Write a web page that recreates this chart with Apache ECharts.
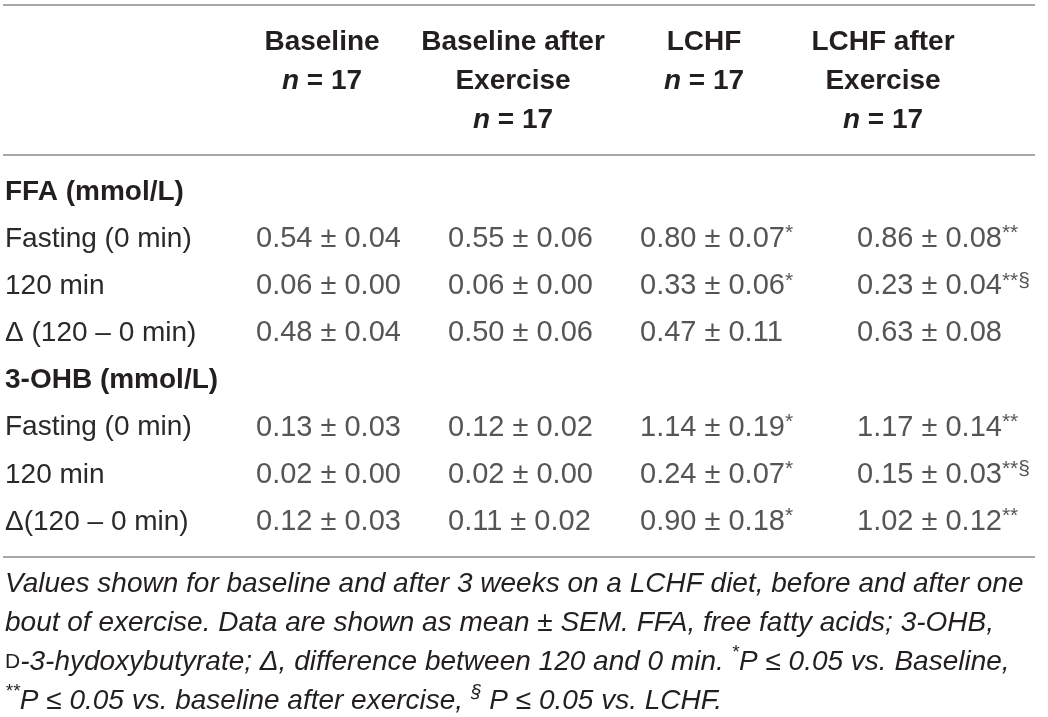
<!DOCTYPE html>
<html>
<head>
<meta charset="utf-8">
<script src="https://cdn.jsdelivr.net/npm/echarts@6/dist/echarts.min.js"></script>
<style>
html, body { margin: 0; padding: 0; background: #fff; }
#main { width: 1048px; height: 717px; }
</style>
</head>
<body>
<div id="main"></div>
<script>
// 表頭與列名
const columnNames = ['Baseline', 'Baseline after\nExercise', 'LCHF', 'LCHF after\nExercise'];
const groupSize = 17;
const rowLabels = ['FFA (mmol/L)', 'Fasting (0 min)', '120 min', 'Δ (120 – 0 min)',
                   '3-OHB (mmol/L)', 'Fasting (0 min)', '120 min', 'Δ(120 – 0 min)'];
const groupRows = [0, 4];

// mean ± SEM，null 為分組標題列
const baselineMean   = [null, 0.54, 0.06, 0.48, null, 0.13, 0.02, 0.12];
const baselineSem    = [null, 0.04, 0.00, 0.04, null, 0.03, 0.00, 0.03];
const baselineExMean = [null, 0.55, 0.06, 0.50, null, 0.12, 0.02, 0.11];
const baselineExSem  = [null, 0.06, 0.00, 0.06, null, 0.02, 0.00, 0.02];
const lchfMean       = [null, 0.80, 0.33, 0.47, null, 1.14, 0.24, 0.90];
const lchfSem        = [null, 0.07, 0.06, 0.11, null, 0.19, 0.07, 0.18];
const lchfExMean     = [null, 0.86, 0.23, 0.63, null, 1.17, 0.15, 1.02];
const lchfExSem      = [null, 0.08, 0.04, 0.08, null, 0.14, 0.03, 0.12];

// 顯著性標記
const baselineMarks   = ['', '', '', '', '', '', '', ''];
const baselineExMarks = ['', '', '', '', '', '', '', ''];
const lchfMarks       = ['', '*', '*', '', '', '*', '*', '*'];
const lchfExMarks     = ['', '**', '**§', '', '', '**', '**§', '**'];

const footnoteLines = [
    'Values shown for baseline and after 3 weeks on a LCHF diet, before and after one',
    'bout of exercise. Data are shown as mean ± SEM. FFA, free fatty acids; 3-OHB,',
    '{sc|D}-3-hydoxybutyrate; Δ, difference between 120 and 0 min. {sup|*}P ≤ 0.05 vs. Baseline,',
    '{sup|**}P ≤ 0.05 vs. baseline after exercise, {sup|§} P ≤ 0.05 vs. LCHF.'
];

const FONT = '"Liberation Sans", Arial, sans-serif';
const TEXT = '#231f20';
const DATA_TEXT = '#2a2a2a';
const RULE = '#a8a8a8';

const columns = [
    { mean: baselineMean, sem: baselineSem, marks: baselineMarks, dx: -66 },
    { mean: baselineExMean, sem: baselineExSem, marks: baselineExMarks, dx: -65 },
    { mean: lchfMean, sem: lchfSem, marks: lchfMarks, dx: -64 },
    { mean: lchfExMean, sem: lchfExSem, marks: lchfExMarks, dx: -38 }
];

const myChart = echarts.init(document.getElementById('main'));

const series = columns.map(function (col, ci) {
    const data = [];
    col.mean.forEach(function (m, ri) {
        if (m !== null) data.push([ci, ri]);
    });
    return {
        type: 'scatter',
        data: data,
        symbolSize: 1,
        itemStyle: { color: 'transparent' },
        silent: true,
        label: {
            show: true,
            position: 'inside',
            align: 'left',
            verticalAlign: 'middle',
            offset: [col.dx, 0],
            fontFamily: FONT,
            fontSize: 29,
            color: DATA_TEXT,
            formatter: function (p) {
                const ri = p.data[1];
                let s = '{v|' + col.mean[ri].toFixed(2) + ' ± ' + col.sem[ri].toFixed(2) + '}';
                if (col.marks[ri]) s += '{sup|' + col.marks[ri] + '}';
                return s;
            },
            rich: {
                v: { fontFamily: FONT, fontSize: 29, lineHeight: 32, color: DATA_TEXT },
                sup: { fontFamily: FONT, fontSize: 21, lineHeight: 22, verticalAlign: 'top', color: DATA_TEXT }
            }
        }
    };
});

const option = {
    animation: false,
    grid: {
        left: 226.5,
        width: 764,
        top: 168.5,
        height: 377,
        outerBoundsMode: 'none'
    },
    xAxis: {
        type: 'category',
        position: 'top',
        data: columnNames,
        axisLine: { show: false },
        axisTick: { show: false },
        splitLine: { show: false },
        axisLabel: {
            interval: 0,
            verticalAlign: 'top',
            margin: 146,
            fontFamily: FONT,
            fontWeight: 'bold',
            fontSize: 28,
            lineHeight: 39,
            color: TEXT,
            formatter: function (value, index) {
                const t = index === 3 ? 'p' : 'h';
                const lines = value.split('\n').map(function (l) { return '{' + t + '|' + l + '}'; });
                lines.push('{i|n}{' + t + '| = ' + groupSize + '}');
                return lines.join('\n');
            },
            rich: {
                h: { lineHeight: 39 },
                p: { lineHeight: 39, padding: [0, 24, 0, 0] },
                i: { lineHeight: 39, fontStyle: 'italic' }
            }
        }
    },
    yAxis: {
        type: 'category',
        inverse: true,
        data: rowLabels,
        axisLine: { show: false },
        axisTick: { show: false },
        splitLine: { show: false },
        axisLabel: {
            interval: 0,
            align: 'left',
            margin: 221.5,
            fontFamily: FONT,
            fontSize: 28,
            color: DATA_TEXT,
            formatter: function (value, index) {
                return groupRows.indexOf(index) >= 0 ? '{g|' + value + '}' : value;
            },
            rich: {
                g: { fontWeight: 'bold', color: TEXT }
            }
        }
    },
    series: series,
    graphic: [
        { type: 'line', shape: { x1: 3, y1: 5, x2: 1035, y2: 5 }, style: { stroke: RULE, lineWidth: 2 }, silent: true },
        { type: 'line', shape: { x1: 3, y1: 155, x2: 1035, y2: 155 }, style: { stroke: RULE, lineWidth: 2 }, silent: true },
        { type: 'line', shape: { x1: 3, y1: 557, x2: 1035, y2: 557 }, style: { stroke: RULE, lineWidth: 2 }, silent: true },
        {
            type: 'text',
            left: 5,
            top: 565,
            silent: true,
            style: {
                text: footnoteLines.join('\n'),
                fontFamily: FONT,
                fontStyle: 'italic',
                fontSize: 28,
                lineHeight: 39,
                fill: TEXT,
                rich: {
                    sup: { fontFamily: FONT, fontStyle: 'italic', fontSize: 19, lineHeight: 20, verticalAlign: 'top', fill: TEXT },
                    sc: { fontFamily: FONT, fontStyle: 'normal', fontSize: 21, lineHeight: 39, fill: TEXT }
                }
            }
        }
    ]
};

myChart.setOption(option);

window.addEventListener('resize', function () {
    myChart.resize();
});
</script>
</body>
</html>
